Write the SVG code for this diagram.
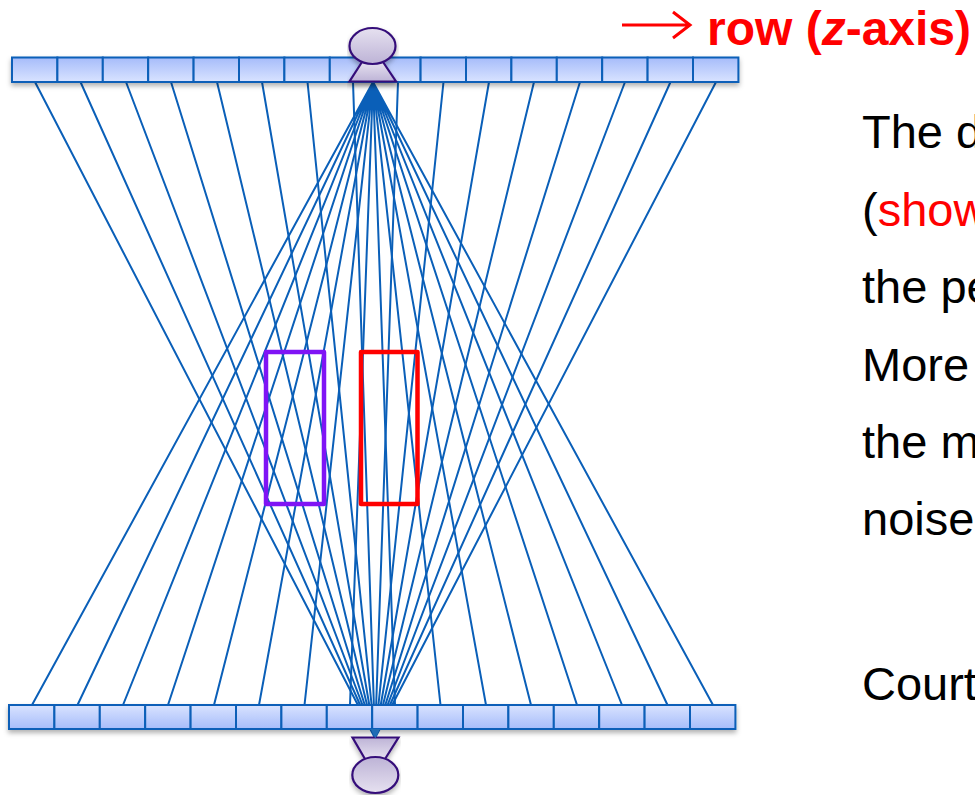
<svg xmlns="http://www.w3.org/2000/svg" width="975" height="795" viewBox="0 0 975 795">
<style>
.cell{fill:url(#cg);stroke:#0a5fb8;stroke-width:2}
.cellb{fill:url(#cg2);stroke:#0a5fb8;stroke-width:2}
.ray{fill:none;stroke:#0a5fb8;stroke-width:2}
.src{fill:url(#sg);stroke:#36107a;stroke-width:2.200}
.srcb{fill:url(#sg2);stroke:#36107a;stroke-width:2.200}
.roi{fill:none;stroke-width:4.500;stroke-linejoin:round}
.t{font-family:"Liberation Sans",Arial,sans-serif;font-size:47px;fill:#000}
.r{fill:#f00}
</style>
<defs>
<linearGradient id="cg" x1="0" y1="0" x2="0" y2="1"><stop offset="0" stop-color="#a6bcfa"/><stop offset="1" stop-color="#d9e3ff"/></linearGradient>
<linearGradient id="cg2" x1="0" y1="1" x2="0" y2="0"><stop offset="0" stop-color="#a6bcfa"/><stop offset="1" stop-color="#d9e3ff"/></linearGradient>
<linearGradient id="sg" x1="0" y1="0" x2="0" y2="1"><stop offset="0" stop-color="#e6e1f0"/><stop offset="1" stop-color="#bdb3d6"/></linearGradient>
<linearGradient id="sg2" x1="0" y1="1" x2="0" y2="0"><stop offset="0" stop-color="#e6e1f0"/><stop offset="1" stop-color="#bdb3d6"/></linearGradient>
<filter id="sh" x="-5%" y="-30%" width="110%" height="170%"><feDropShadow dx="0" dy="3" stdDeviation="2.500" flood-color="#000" flood-opacity=".3"/></filter>
</defs>
<g id="connectors">
<path class="ray" d="M35 82L375 738M80.500 82L375 738M126 82L375 738M171 82L375 738M217 82L375 738M262 82L375 738M307.500 82L375 738M353 82L375 738M398 82L375 738M443.500 82L375 738M489 82L375 738M534 82L375 738M580 82L375 738M625 82L375 738M670.500 82L375 738M716 82L375 738"/>
<path class="ray" d="M32 705L373 82M77.500 705L373 82M123 705L373 82M168 705L373 82M214 705L373 82M259 705L373 82M304.500 705L373 82M350 705L373 82M395 705L373 82M440.500 705L373 82M486 705L373 82M531 705L373 82M577 705L373 82M622 705L373 82M667.500 705L373 82M713 705L373 82"/>
</g>
<g id="detector-top" filter="url(#sh)">
<rect class="cell" x="12" y="57.500" width="45.400" height="24.500"/><rect class="cell" x="57.400" y="57.500" width="45.400" height="24.500"/><rect class="cell" x="102.800" y="57.500" width="45.400" height="24.500"/><rect class="cell" x="148.200" y="57.500" width="45.400" height="24.500"/><rect class="cell" x="193.600" y="57.500" width="45.400" height="24.500"/><rect class="cell" x="239" y="57.500" width="45.400" height="24.500"/><rect class="cell" x="284.400" y="57.500" width="45.400" height="24.500"/><rect class="cell" x="329.800" y="57.500" width="45.400" height="24.500"/><rect class="cell" x="375.200" y="57.500" width="45.400" height="24.500"/><rect class="cell" x="420.600" y="57.500" width="45.400" height="24.500"/><rect class="cell" x="466" y="57.500" width="45.400" height="24.500"/><rect class="cell" x="511.400" y="57.500" width="45.400" height="24.500"/><rect class="cell" x="556.800" y="57.500" width="45.400" height="24.500"/><rect class="cell" x="602.200" y="57.500" width="45.400" height="24.500"/><rect class="cell" x="647.600" y="57.500" width="45.400" height="24.500"/><rect class="cell" x="693" y="57.500" width="45.400" height="24.500"/>
</g>
<g id="detector-bottom" filter="url(#sh)">
<rect class="cellb" x="9" y="705" width="45.400" height="24"/><rect class="cellb" x="54.400" y="705" width="45.400" height="24"/><rect class="cellb" x="99.800" y="705" width="45.400" height="24"/><rect class="cellb" x="145.200" y="705" width="45.400" height="24"/><rect class="cellb" x="190.600" y="705" width="45.400" height="24"/><rect class="cellb" x="236" y="705" width="45.400" height="24"/><rect class="cellb" x="281.400" y="705" width="45.400" height="24"/><rect class="cellb" x="326.800" y="705" width="45.400" height="24"/><rect class="cellb" x="372.200" y="705" width="45.400" height="24"/><rect class="cellb" x="417.600" y="705" width="45.400" height="24"/><rect class="cellb" x="463" y="705" width="45.400" height="24"/><rect class="cellb" x="508.400" y="705" width="45.400" height="24"/><rect class="cellb" x="553.800" y="705" width="45.400" height="24"/><rect class="cellb" x="599.200" y="705" width="45.400" height="24"/><rect class="cellb" x="644.600" y="705" width="45.400" height="24"/><rect class="cellb" x="690" y="705" width="45.400" height="24"/>
</g>
<g id="source-top" filter="url(#sh)">
<path class="src" d="M362 62L349.500 81.500H396L383 62Z"/>
<ellipse class="src" cx="372.500" cy="46" rx="23" ry="18"/>
</g>
<g id="source-bottom" filter="url(#sh)">
<path class="srcb" d="M352.500 737.500H398.500L385 759H365Z"/>
<ellipse class="srcb" cx="375.300" cy="775" rx="23" ry="18"/>
</g>
<path id="center-arrow" d="M370.500 729H380L375.300 738.500Z" fill="#1f6cb5"/>
<rect id="roi-purple" class="roi" x="266" y="352" width="58" height="152" stroke="#7f14f5"/>
<rect id="roi-red" class="roi" x="361" y="352" width="56.500" height="152" stroke="#f00"/>
<g id="axis-label">
<path d="M622 25H690M673 12L690 25L673 38" fill="none" stroke="#f00" stroke-width="3"/>
<text x="707" y="44.500" font-family="Liberation Sans,Arial,sans-serif" font-size="48" font-weight="bold" fill="#f00">row (<tspan font-style="italic">z</tspan>-axis)</text>
</g>
<g id="caption">
<text class="t" x="862" y="148">The d</text>
<text class="t" x="862" y="225.500">(<tspan class="r">show</tspan></text>
<text class="t" x="862" y="303">the pe</text>
<text class="t" x="862" y="381">More</text>
<text class="t" x="862" y="458">the m</text>
<text class="t" x="862" y="535">noise</text>
<text class="t" x="862" y="700">Court</text>
</g>
</svg>
